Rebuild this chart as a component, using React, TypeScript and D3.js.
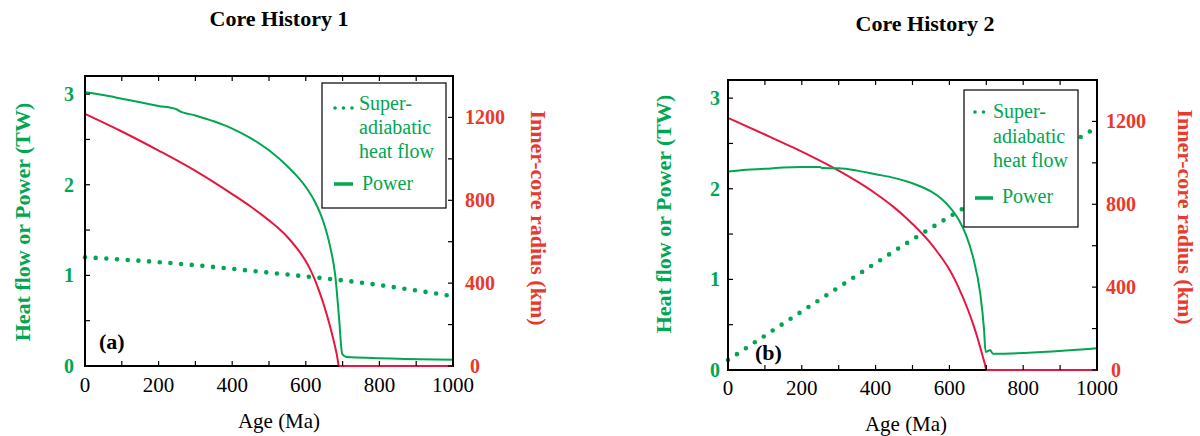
import React from "react";
import * as d3 from "d3";

// ---------- data ----------
const xTicks = [0, 200, 400, 600, 800, 1000];
const xMinorTicks = [0, 100, 200, 300, 400, 500, 600, 700, 800, 900, 1000];
const yLeftTicks = [0, 1, 2, 3];
const yLeftMinor = [0, 0.5, 1, 1.5, 2, 2.5, 3];
const yRightTicks = [0, 400, 800, 1200];
const yRightMinor = [0, 200, 400, 600, 800, 1000, 1200, 1400];

const titles = ["Core History 1", "Core History 2"];
const panelTags = ["(a)", "(b)"];
const legendLabels = ["Super-", "adiabatic", "heat flow", "Power"];

// Core history 1: [age Ma, value]
const power1: [number, number][] = [
  [0, 3.02], [50, 2.99], [100, 2.95], [150, 2.91], [200, 2.87], [250, 2.83], [256, 2.815],
  [300, 2.765], [350, 2.7], [400, 2.62], [450, 2.515], [500, 2.38], [550, 2.205], [575, 2.1],
  [600, 1.975], [625, 1.81], [647, 1.6], [666, 1.32], [680, 1.0], [690, 0.55], [699, 0.13],
  [711, 0.1], [1000, 0.07],
];
const radius1: [number, number][] = [
  [0, 1217], [100, 1132], [200, 1040], [300, 942], [400, 830], [450, 770], [500, 703],
  [525, 666], [550, 623], [575, 570], [600, 506], [611, 470], [625, 414], [638, 353],
  [650, 290], [660, 230], [668, 178], [675, 128], [681, 82], [685, 48], [688, 15], [689.5, 0],
  [1000, 0],
];
const heatFlow1: [number, number][] = [
  [0, 1.2], [250, 1.13], [500, 1.03], [750, 0.92], [1000, 0.77],
];

// Core history 2
const power2: [number, number][] = [
  [0, 2.19], [50, 2.21], [100, 2.22], [150, 2.235], [200, 2.24], [249, 2.24], [256, 2.228],
  [300, 2.225], [350, 2.2], [400, 2.16], [450, 2.12], [500, 2.06], [550, 1.97], [575, 1.9],
  [600, 1.8], [625, 1.66], [645, 1.49], [665, 1.23], [683, 0.86], [694, 0.44], [698, 0.2],
  [705, 0.21], [710, 0.22], [718, 0.18], [1000, 0.24],
];
const radius2: [number, number][] = [
  [0, 1217], [100, 1137], [179, 1072], [200, 1054], [300, 962], [400, 852], [450, 785],
  [480, 739], [500, 705], [550, 610], [569, 566], [600, 485], [615, 435], [625, 398],
  [650, 292], [665, 218], [675, 162], [685, 100], [691, 62], [696, 30], [700, 0], [1000, 0],
];
const heatFlow2: [number, number][] = [
  [0, 0.11], [250, 0.78], [500, 1.44], [750, 2.06], [1000, 2.68],
];

// ---------- styles ----------
const GREEN = "#00a651";
const RED = "#e5173f";
const RED_TXT = "#e8392c";
const FONT = "'Liberation Serif', 'Times New Roman', Times, serif";

type PanelCfg = {
  left: number; right: number; top: number; bottom: number;
  title: string; titleX: number; titleY: number;
  tag: string; tagX: number; tagY: number;
  power: [number, number][]; radius: [number, number][]; heat: [number, number][];
  yLabX: number; yLabY: number; rLabX: number; rLabY: number;
  xLabX: number; xLabY: number;
  lgX: number; lgY: number; lgW: number; lgH: number;
  dotX0: number; dotX1: number; dotY: number;
  txtX: number; base: number[]; pwrX0: number; pwrX1: number; pwrY: number; pwrTxtX: number;
  lGap: number; rGap: number; xLabBase: number;
};

const panels: PanelCfg[] = [
  {
    left: 85, right: 453, top: 76, bottom: 366,
    title: titles[0], titleX: 279, titleY: 26,
    tag: panelTags[0], tagX: 99, tagY: 349,
    power: power1, radius: radius1, heat: heatFlow1,
    yLabX: 30, yLabY: 222, rLabX: 531, rLabY: 218,
    xLabX: 279, xLabY: 428,
    lgX: 322, lgY: 83, lgW: 124, lgH: 125,
    dotX0: 335, dotX1: 354, dotY: 108,
    txtX: 359, base: [110, 134, 158, 190], pwrX0: 334, pwrX1: 353, pwrY: 184, pwrTxtX: 362,
    lGap: 11, rGap: 12, xLabBase: 392,
  },
  {
    left: 728, right: 1097, top: 80, bottom: 370,
    title: titles[1], titleX: 925, titleY: 31,
    tag: panelTags[1], tagX: 755, tagY: 360,
    power: power2, radius: radius2, heat: heatFlow2,
    yLabX: 671, yLabY: 214, rLabX: 1178, rLabY: 217,
    xLabX: 906, xLabY: 431,
    lgX: 964, lgY: 90, lgW: 114, lgH: 137,
    dotX0: 975, dotX1: 985, dotY: 112,
    txtX: 993, base: [118, 143, 167, 203], pwrX0: 975, pwrX1: 993, pwrY: 198, pwrTxtX: 1002,
    lGap: 8, rGap: 9, xLabBase: 395,
  },
];

function Panel({ c }: { c: PanelCfg }) {
  const x = d3.scaleLinear().domain([0, 1000]).range([c.left, c.right]);
  const y = d3.scaleLinear().domain([0, 3.2]).range([c.bottom, c.top]);
  const yr = d3.scaleLinear().domain([0, 1400]).range([c.bottom, c.top]);
  const lineY = d3.line<[number, number]>().x((d) => x(d[0])).y((d) => y(d[1])).curve(d3.curveMonotoneX);
  const lineR = d3.line<[number, number]>().x((d) => x(d[0])).y((d) => yr(d[1])).curve(d3.curveMonotoneX);
  const tl = 5;
  return (
    <g>
      <text x={c.titleX} y={c.titleY} textAnchor="middle" fontFamily={FONT} fontWeight="bold" fontSize={22}>
        {c.title}
      </text>
      {/* curves */}
      <path d={lineY(c.heat) || ""} fill="none" stroke={GREEN} strokeWidth={4.6} strokeLinecap="round" strokeDasharray="0 10.7" />
      <path d={lineR(c.radius) || ""} fill="none" stroke={RED} strokeWidth={2} />
      <path d={lineY(c.power) || ""} fill="none" stroke={GREEN} strokeWidth={2} />
      {/* frame */}
      <rect x={c.left} y={c.top} width={c.right - c.left} height={c.bottom - c.top} fill="none" stroke="#000" strokeWidth={2} />
      {/* red zero line on top of frame */}
      <path d={lineR(c.radius.filter((d) => d[1] === 0)) || ""} fill="none" stroke={RED} strokeWidth={2} />
      {xMinorTicks.map((t) => (
        <g key={"xt" + t}>
          <line x1={x(t)} x2={x(t)} y1={c.bottom} y2={c.bottom - tl} stroke="#000" strokeWidth={1.2} />
          <line x1={x(t)} x2={x(t)} y1={c.top} y2={c.top + tl} stroke="#000" strokeWidth={1.2} />
        </g>
      ))}
      {yLeftMinor.map((t) => (
        <line key={"yl" + t} x1={c.left} x2={c.left + tl} y1={y(t)} y2={y(t)} stroke="#000" strokeWidth={1.2} />
      ))}
      {yRightMinor.map((t) => (
        <line key={"yr" + t} x1={c.right} x2={c.right - tl} y1={yr(t)} y2={yr(t)} stroke="#000" strokeWidth={1.2} />
      ))}
      {xTicks.map((t) => (
        <text key={"xl" + t} x={x(t)} y={c.xLabBase} textAnchor="middle" fontFamily={FONT} fontSize={21} fill="#000">
          {t}
        </text>
      ))}
      {yLeftTicks.map((t) => (
        <text key={"yll" + t} x={c.left - c.lGap} y={y(t) + 7} textAnchor="end" fontFamily={FONT} fontWeight="bold" fontSize={20} fill={GREEN}>
          {t}
        </text>
      ))}
      {yRightTicks.map((t) => (
        <text key={"yrl" + t} x={c.right + c.rGap + (t === 0 ? 5 : 0)} y={yr(t) + 7} textAnchor="start" fontFamily={FONT} fontWeight="bold" fontSize={20} fill={RED_TXT}>
          {t}
        </text>
      ))}
      <text transform={`translate(${c.yLabX},${c.yLabY}) rotate(-90)`} textAnchor="middle" fontFamily={FONT} fontWeight="bold" fontSize={22} fill={GREEN}>
        Heat flow or Power (TW)
      </text>
      <text transform={`translate(${c.rLabX},${c.rLabY}) rotate(90)`} textAnchor="middle" fontFamily={FONT} fontWeight="bold" fontSize={22} fill={RED_TXT}>
        Inner-core radius (km)
      </text>
      <text x={c.xLabX} y={c.xLabY} textAnchor="middle" fontFamily={FONT} fontSize={21} fill="#000">
        Age (Ma)
      </text>
      <text x={c.tagX} y={c.tagY} fontFamily={FONT} fontWeight="bold" fontSize={22} fill="#000">
        {c.tag}
      </text>
      {/* legend */}
      <rect x={c.lgX} y={c.lgY} width={c.lgW} height={c.lgH} fill="#fff" stroke="#000" strokeWidth={1.2} />
      <line x1={c.dotX0} x2={c.dotX1} y1={c.dotY} y2={c.dotY} stroke={GREEN} strokeWidth={3.6} strokeLinecap="round" strokeDasharray="0 8.5" />
      {legendLabels.slice(0, 3).map((s, i) => (
        <text key={s} x={c.txtX} y={c.base[i]} fontFamily={FONT} fontSize={20} fill={GREEN}>
          {s}
        </text>
      ))}
      <line x1={c.pwrX0} x2={c.pwrX1} y1={c.pwrY} y2={c.pwrY} stroke={GREEN} strokeWidth={3.5} />
      <text x={c.pwrTxtX} y={c.base[3]} fontFamily={FONT} fontSize={20} fill={GREEN}>
        {legendLabels[3]}
      </text>
    </g>
  );
}

export default function App() {
  return (
    <svg width={1200} height={436} style={{ position: "absolute", left: 0, top: 0, background: "#fff" }}>
      <rect x={0} y={0} width={1200} height={436} fill="#fff" />
      {panels.map((c, i) => (
        <Panel key={i} c={c} />
      ))}
    </svg>
  );
}
